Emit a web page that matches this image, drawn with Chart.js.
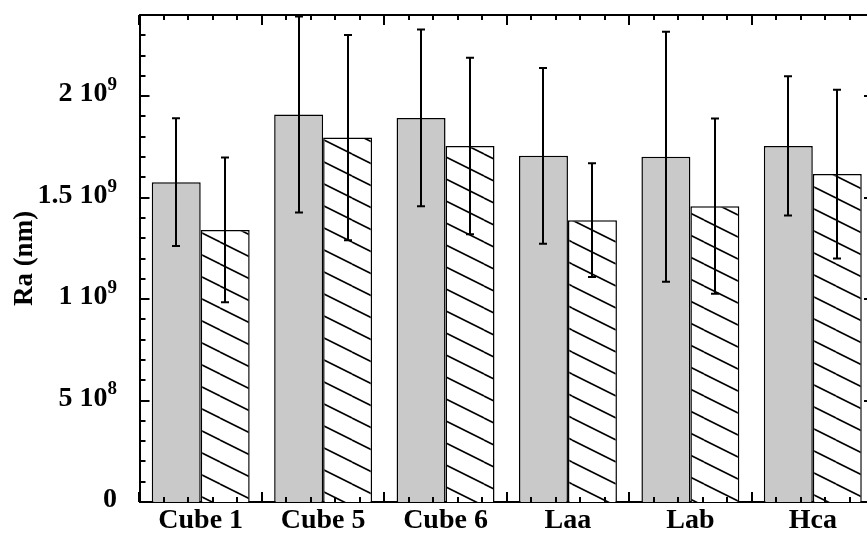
<!DOCTYPE html>
<html lang="en">
<head>
<meta charset="UTF-8">
<title>Ra (nm) per sample</title>
<script src="https://cdn.jsdelivr.net/npm/chart.js"></script>
<style>
  body { margin: 0; background: #fff; }
  #wrap { width: 867px; height: 534px; overflow: hidden; }
</style>
</head>
<body>
<div id="wrap">
  <canvas id="raChart" width="880" height="534"></canvas>
</div>
<script>
// data
const categories  = ['Cube 1', 'Cube 5', 'Cube 6', 'Laa', 'Lab', 'Hca'];
const solidValues = [1.576e9, 1.910e9, 1.893e9, 1.706e9, 1.701e9, 1.755e9];
const solidErrors = [0.315e9, 0.483e9, 0.435e9, 0.433e9, 0.616e9, 0.343e9];
const hatchValues = [1.341e9, 1.796e9, 1.754e9, 1.389e9, 1.458e9, 1.616e9];
const hatchErrors = [0.357e9, 0.506e9, 0.435e9, 0.280e9, 0.432e9, 0.416e9];
const yTicks = [0, 5e8, 1e9, 1.5e9, 2e9];
const yMax = 2.4e9;
const yMinorStep = 1e8;
const xMinorPerCategory = 5;

const FONT = '"Liberation Serif", "Times New Roman", serif';

// diagonal hatch ("\") used for the second series
function makeHatch() {
    const c = document.createElement('canvas');
    c.width = 44; c.height = 22;
    const g = c.getContext('2d');
    g.fillStyle = '#fff';
    g.fillRect(0, 0, 44, 22);
    g.strokeStyle = '#000';
    g.lineWidth = 1.6;
    [-22, 0, 22].forEach(k => {
        g.beginPath();
        g.moveTo(0, k);
        g.lineTo(44, k + 22);
        g.stroke();
    });
    return g.createPattern(c, 'repeat');
}

// error bars with caps
const errorBars = {
    id: 'errorBars',
    afterDatasetsDraw(chart) {
        const {ctx, scales: {y}} = chart;
        ctx.save();
        ctx.strokeStyle = '#000';
        ctx.lineWidth = 2;
        chart.data.datasets.forEach((ds, di) => {
            chart.getDatasetMeta(di).data.forEach((bar, i) => {
                const v = ds.data[i], e = ds.errors[i];
                const top = y.getPixelForValue(v + e);
                const bot = y.getPixelForValue(v - e);
                const x = Math.round(bar.x);
                ctx.beginPath();
                ctx.moveTo(x, top); ctx.lineTo(x, bot);
                ctx.moveTo(x - 4, top); ctx.lineTo(x + 4, top);
                ctx.moveTo(x - 4, bot); ctx.lineTo(x + 4, bot);
                ctx.stroke();
            });
        });
        ctx.restore();
    }
};

// closed frame with inward ticks, and the "m 10^e" tick labels
const frame = {
    id: 'frame',
    afterDraw(chart) {
        const {ctx, chartArea: a, scales: {x, y}} = chart;
        ctx.save();
        ctx.strokeStyle = '#000';
        ctx.lineWidth = 2;
        ctx.beginPath();
        ctx.moveTo(a.left, a.top); ctx.lineTo(a.right, a.top); ctx.lineTo(a.right, a.bottom);
        ctx.stroke();

        ctx.beginPath();
        // y ticks, left side (and majors on the right)
        for (let v = 0; v <= yMax + 1; v += yMinorStep) {
            const py = Math.round(y.getPixelForValue(v));
            const major = yTicks.some(t => Math.abs(t - v) < 1);
            ctx.moveTo(a.left, py); ctx.lineTo(a.left + (major ? 10 : 6), py);
            if (major) { ctx.moveTo(a.right, py); ctx.lineTo(a.right - 10, py); }
        }
        // x ticks top and bottom
        const w = x.getPixelForValue(1) - x.getPixelForValue(0);
        const x0 = x.getPixelForValue(0) - w / 2;
        for (let k = 0; k <= categories.length * xMinorPerCategory; k++) {
            const px = Math.round(x0 + k * w / xMinorPerCategory);
            const len = k % xMinorPerCategory === 0 ? 10 : 5;
            ctx.moveTo(px, a.bottom); ctx.lineTo(px, a.bottom - len);
            ctx.moveTo(px, a.top); ctx.lineTo(px, a.top + len);
        }
        ctx.stroke();

        // tick labels with superscript exponent
        ctx.fillStyle = '#000';
        ctx.textAlign = 'right';
        ctx.textBaseline = 'middle';
        const xr = 117;
        y.ticks.forEach(t => {
            const py = y.getPixelForValue(t.value);
            if (t.value === 0) {
                ctx.font = 'bold 28px ' + FONT;
                ctx.fillText('0', xr, py - 2);
                return;
            }
            const exp = Math.floor(Math.log10(t.value) + 1e-9);
            const mant = +(t.value / Math.pow(10, exp)).toFixed(2);
            ctx.font = 'bold 19px ' + FONT;
            const sup = String(exp);
            const sw = ctx.measureText(sup).width;
            ctx.fillText(sup, xr, py - 11);
            ctx.font = 'bold 28px ' + FONT;
            ctx.fillText(mant + ' 10', xr - sw, py - 2);
        });
        ctx.restore();
    }
};

const ctx = document.getElementById('raChart').getContext('2d');
new Chart(ctx, {
    type: 'bar',
    data: {
        labels: categories,
        datasets: [{
            data: solidValues,
            errors: solidErrors,
            backgroundColor: '#c9c9c9',
            borderColor: '#000',
            borderWidth: 1.5
        }, {
            data: hatchValues,
            errors: hatchErrors,
            backgroundColor: makeHatch(),
            borderColor: '#000',
            borderWidth: 1.5
        }]
    },
    options: {
        responsive: false,
        animation: false,
        events: [],
        layout: { padding: { top: 15, right: 6, left: 0, bottom: 0 } },
        plugins: { legend: { display: false }, tooltip: { enabled: false } },
        datasets: { bar: { categoryPercentage: 0.8, barPercentage: 1.0 } },
        scales: {
            x: {
                grid: { display: false, drawTicks: false },
                border: { display: true, color: '#000', width: 2 },
                ticks: {
                    color: '#000',
                    padding: 5,
                    font: { family: FONT, size: 28, weight: 'bold', lineHeight: 1 }
                },
                afterFit(scale) { scale.height = 32; }
            },
            y: {
                min: 0,
                max: yMax,
                grid: { display: false, drawTicks: false },
                border: { display: true, color: '#000', width: 2 },
                ticks: { display: false },
                afterBuildTicks(scale) { scale.ticks = yTicks.map(v => ({ value: v })); },
                afterFit(scale) { scale.width = 139.5; },
                title: {
                    display: true,
                    text: 'Ra (nm)',
                    color: '#000',
                    padding: { top: 12, bottom: 0 },
                    font: { family: FONT, size: 27, weight: 'bold', lineHeight: 1 }
                }
            }
        }
    },
    plugins: [errorBars, frame]
});
</script>
</body>
</html>
